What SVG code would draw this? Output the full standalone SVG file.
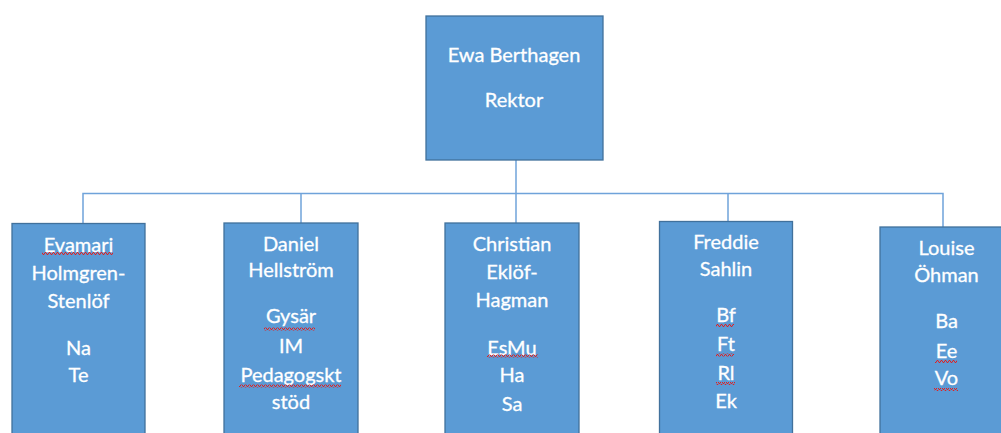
<svg xmlns="http://www.w3.org/2000/svg" width="1001" height="433" viewBox="0 0 1001 433">
<defs>
<style>
.box{fill:#5B9BD5;stroke:#41719C;stroke-width:1.3}
.t{font-family:Lato,"Open Sans",sans-serif;font-size:20px;fill:#FFFFFF;stroke:#FFFFFF;stroke-width:0.3;text-anchor:middle}
.c{fill:none;stroke:#6FA3DA;stroke-width:1.5}
</style>
<pattern id="sq" x="0" y="0" width="4" height="3" patternUnits="userSpaceOnUse">
<path d="M0,2.5 L1,0.5 L2,0.5 L3,2.5 L4,2.5" fill="none" stroke="#E02020" stroke-width="1"/>
</pattern>
</defs>
<rect width="1001" height="433" fill="#FFFFFF"/>
<g id="connectors">
<path class="c" d="M516,160 V223"/>
<path class="c" d="M83,223 V193.5 H943 V227"/>
<path class="c" d="M301,193.5 V223"/>
<path class="c" d="M728,193.5 V221"/>
</g>
<g id="rektor">
<rect class="box" x="426" y="16" width="177" height="144"/>
<text class="t" x="514" y="62">Ewa Berthagen</text>
<text class="t" x="514" y="106.5">Rektor</text>
</g>
<g id="evamari">
<rect class="box" x="12" y="223.5" width="133" height="220"/>
<text class="t" x="78.5" y="251.5">Evamari</text>
<text class="t" x="78.5" y="280">Holmgren-</text>
<text class="t" x="78.5" y="308">Stenlöf</text>
<text class="t" x="78.5" y="355">Na</text>
<text class="t" x="78.5" y="381.5">Te</text>
<rect x="42" y="252" width="71" height="3" fill="url(#sq)"/>
</g>
<g id="daniel">
<rect class="box" x="224" y="223" width="134" height="220"/>
<text class="t" x="291" y="250.5">Daniel</text>
<text class="t" x="291" y="277">Hellström</text>
<text class="t" x="291" y="323">Gysär</text>
<text class="t" x="291" y="353">IM</text>
<text class="t" x="291" y="381.5">Pedagogskt</text>
<text class="t" x="291" y="409">stöd</text>
<rect x="264" y="327.5" width="51" height="3" fill="url(#sq)"/>
<rect x="239" y="384.5" width="102" height="3" fill="url(#sq)"/>
</g>
<g id="christian">
<rect class="box" x="445" y="223" width="134" height="220"/>
<text class="t" x="512" y="250.5">Christian</text>
<text class="t" x="512" y="279">Eklöf-</text>
<text class="t" x="512" y="307">Hagman</text>
<text class="t" x="512" y="355">EsMu</text>
<text class="t" x="512" y="382">Ha</text>
<text class="t" x="512" y="410.5">Sa</text>
<rect x="487" y="354.5" width="51" height="3" fill="url(#sq)"/>
</g>
<g id="freddie">
<rect class="box" x="659.5" y="221.5" width="133" height="220"/>
<text class="t" x="726" y="249">Freddie</text>
<text class="t" x="726" y="276">Sahlin</text>
<text class="t" x="726" y="321.5">Bf</text>
<text class="t" x="726" y="351">Ft</text>
<text class="t" x="726" y="380">Rl</text>
<text class="t" x="726" y="407.5">Ek</text>
<rect x="716" y="324" width="18" height="3" fill="url(#sq)"/>
<rect x="716" y="353.5" width="18" height="3" fill="url(#sq)"/>
<rect x="716" y="382" width="19" height="3" fill="url(#sq)"/>
</g>
<g id="louise">
<rect class="box" x="880" y="227" width="133" height="220"/>
<text class="t" x="946.5" y="255">Louise</text>
<text class="t" x="946.5" y="281.5">Öhman</text>
<text class="t" x="946.5" y="328">Ba</text>
<text class="t" x="946.5" y="358">Ee</text>
<text class="t" x="946.5" y="385">Vo</text>
<rect x="935" y="360" width="22" height="3" fill="url(#sq)"/>
<rect x="934" y="388" width="24" height="3" fill="url(#sq)"/>
</g>
</svg>
